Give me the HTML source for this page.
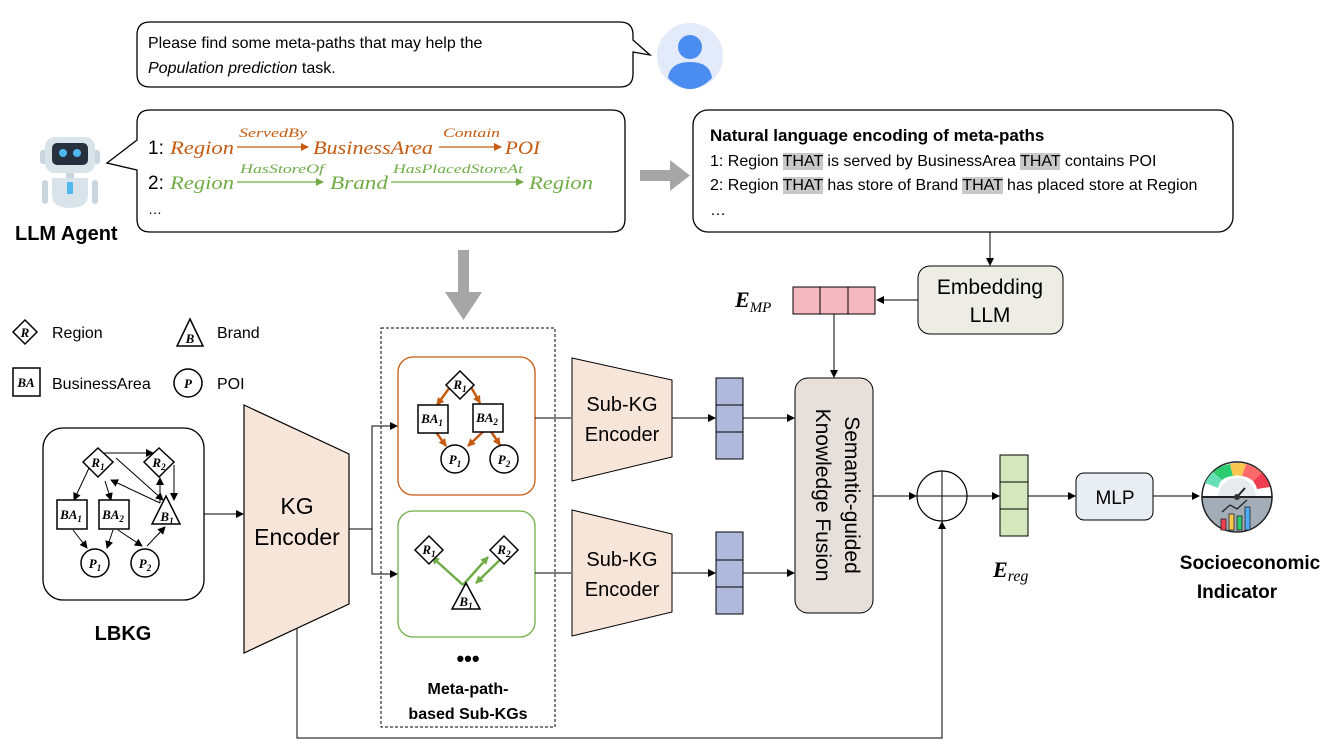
<!DOCTYPE html>
<html><head><meta charset="utf-8"><style>
html,body{margin:0;padding:0;background:#fff;}
body{position:relative;width:1328px;height:754px;overflow:hidden;}
svg{display:block;font-family:"Liberation Sans",sans-serif;}
.it{font-family:"Liberation Serif",serif;font-style:italic;}
#nl{position:absolute;left:710px;top:124px;font-family:"Liberation Sans",sans-serif;font-size:16px;line-height:24.5px;white-space:nowrap;}
#nl b{font-size:17px;}
#nl span{background:#c8c8c8;}
</style></head><body>
<svg width="1328" height="754" viewBox="0 0 1328 754" xmlns="http://www.w3.org/2000/svg">
<defs>
<marker id="a" markerWidth="8" markerHeight="8" refX="7" refY="4" orient="auto" markerUnits="userSpaceOnUse"><path d="M0,0 L8,4 L0,8 z" fill="#000"/></marker>
<marker id="ao" markerWidth="8" markerHeight="8" refX="7" refY="4" orient="auto" markerUnits="userSpaceOnUse"><path d="M0,0 L8,4 L0,8 z" fill="#c55a11"/></marker>
<marker id="ag" markerWidth="8" markerHeight="8" refX="7" refY="4" orient="auto" markerUnits="userSpaceOnUse"><path d="M0,0 L8,4 L0,8 z" fill="#70ad47"/></marker>
</defs>

<!-- top user bubble -->
<path d="M150,22 H620 Q633,22 633,35 V40 L650,55 L633,52 V74 Q633,87 620,87 H150 Q137,87 137,74 V35 Q137,22 150,22 Z" fill="#fff" stroke="#000" stroke-width="1.3"/>
<text x="148" y="48" font-size="16">Please find some meta-paths that may help the</text>
<text x="148" y="73" font-size="16"><tspan font-style="italic">Population prediction</tspan> task.</text>
<circle cx="690" cy="56" r="33" fill="#e3ebfb"/>
<circle cx="690" cy="47" r="12" fill="#4a8cf0"/>
<path d="M668,78 Q670,62 690,62 Q710,62 712,78 Q701,89 690,89 Q679,89 668,78 Z" fill="#4a8cf0"/>

<!-- robot -->
<rect x="40" y="150" width="7" height="14" rx="3" fill="#c9d6de"/><rect x="93" y="150" width="7" height="14" rx="3" fill="#c9d6de"/>
<rect x="45" y="137" width="50" height="36" rx="10" fill="#d9e3ea"/>
<rect x="52" y="143" width="36" height="22" rx="5" fill="#26303f"/>
<circle cx="63" cy="153" r="4" fill="#4fb8ee"/><circle cx="77" cy="153" r="4" fill="#4fb8ee"/>
<rect x="66" y="173" width="8" height="5" fill="#c9d6de"/>
<path d="M52,178 H88 V195 Q88,208 70,208 Q52,208 52,195 Z" fill="#d9e3ea"/>
<rect x="42" y="180" width="6" height="24" rx="3" fill="#c9d6de"/><rect x="92" y="180" width="6" height="24" rx="3" fill="#c9d6de"/>
<rect x="67" y="182" width="6" height="12" rx="1" fill="#4fb8ee"/>
<text x="15" y="240" font-size="20" font-weight="bold">LLM Agent</text>

<!-- LLM bubble -->
<path d="M150,110 H612 Q625,110 625,123 V219 Q625,232 612,232 H150 Q137,232 137,219 V170 L107,163 L137,140 V123 Q137,110 150,110 Z" fill="#fff" stroke="#000" stroke-width="1.3"/>
<g font-size="19">
<text x="148" y="154">1:</text>
<text x="170" y="154" class="it" fill="#c55a11" textLength="64" lengthAdjust="spacingAndGlyphs">Region</text>
<text x="239" y="137" class="it" font-size="13" fill="#c55a11" textLength="68" lengthAdjust="spacingAndGlyphs">ServedBy</text>
<line x1="237" y1="147" x2="308" y2="147" stroke="#c55a11" stroke-width="1.2" marker-end="url(#ao)"/>
<text x="313" y="154" class="it" fill="#c55a11" textLength="120" lengthAdjust="spacingAndGlyphs">BusinessArea</text>
<text x="443" y="137" class="it" font-size="13" fill="#c55a11" textLength="57" lengthAdjust="spacingAndGlyphs">Contain</text>
<line x1="439" y1="147" x2="501" y2="147" stroke="#c55a11" stroke-width="1.2" marker-end="url(#ao)"/>
<text x="505" y="154" class="it" fill="#c55a11" textLength="35" lengthAdjust="spacingAndGlyphs">POI</text>
<text x="148" y="189">2:</text>
<text x="170" y="189" class="it" fill="#70ad47" textLength="64" lengthAdjust="spacingAndGlyphs">Region</text>
<text x="240" y="173" class="it" font-size="13" fill="#70ad47" textLength="84" lengthAdjust="spacingAndGlyphs">HasStoreOf</text>
<line x1="237" y1="182" x2="323" y2="182" stroke="#70ad47" stroke-width="1.2" marker-end="url(#ag)"/>
<text x="330" y="189" class="it" fill="#70ad47" textLength="58" lengthAdjust="spacingAndGlyphs">Brand</text>
<text x="393" y="173" class="it" font-size="13" fill="#70ad47" textLength="130" lengthAdjust="spacingAndGlyphs">HasPlacedStoreAt</text>
<line x1="391" y1="182" x2="523" y2="182" stroke="#70ad47" stroke-width="1.2" marker-end="url(#ag)"/>
<text x="529" y="189" class="it" fill="#70ad47" textLength="64" lengthAdjust="spacingAndGlyphs">Region</text>
<text x="148" y="214" font-size="14">…</text>
</g>

<!-- gray arrows -->
<rect x="640" y="170" width="32" height="11" fill="#a6a6a6"/>
<path d="M670,160 L690,175.5 L670,191 Z" fill="#a6a6a6"/>
<rect x="458" y="250" width="11" height="45" fill="#a6a6a6"/>
<path d="M445,292 L463.5,320 L482,292 Z" fill="#a6a6a6"/>

<!-- NL box -->
<rect x="693" y="110" width="540" height="122" rx="15" fill="#fff" stroke="#000" stroke-width="1.3"/>
<line x1="990" y1="232" x2="990" y2="265" stroke="#000" marker-end="url(#a)"/>

<!-- Embedding LLM -->
<rect x="918" y="266" width="145" height="68" rx="12" fill="#ededE5" stroke="#000"/>
<text x="990" y="294" font-size="21" text-anchor="middle">Embedding</text>
<text x="990" y="322" font-size="21" text-anchor="middle">LLM</text>
<line x1="918" y1="300" x2="877" y2="300" stroke="#000" marker-end="url(#a)"/>
<rect x="793" y="287" width="82" height="27" fill="#f4b8c1" stroke="#000"/>
<line x1="820" y1="287" x2="820" y2="314" stroke="#000"/><line x1="848" y1="287" x2="848" y2="314" stroke="#000"/>
<text x="735" y="307" class="it" font-size="22" font-weight="bold">E<tspan font-size="15" font-weight="normal" dy="5">MP</tspan></text>
<line x1="834" y1="314" x2="834" y2="377" stroke="#000" marker-end="url(#a)"/>

<!-- legend -->
<g stroke="#000" stroke-width="1.5" fill="#fff">
<path d="M25,320 L37,332 L25,344 L13,332 Z"/>
<rect x="13" y="368" width="27" height="28"/>
<path d="M190,319 L203,346 L177,346 Z"/>
<circle cx="188" cy="383" r="14"/>
</g>
<g class="it" font-weight="bold" font-size="13" text-anchor="middle">
<text x="25" y="337">R</text><text x="26" y="387">BA</text><text x="190" y="343">B</text><text x="188" y="388">P</text>
</g>
<g font-size="16"><text x="52" y="338">Region</text><text x="52" y="389">BusinessArea</text><text x="217" y="338">Brand</text><text x="217" y="389">POI</text></g>

<!-- LBKG -->
<rect x="43" y="428" width="161" height="172" rx="20" fill="#fff" stroke="#000" stroke-width="1.3"/>
<g stroke="#000" stroke-width="1" fill="none" marker-end="url(#a)">
<line x1="104" y1="453" x2="153" y2="453"/>
<path d="M89,468 L74,500"/>
<path d="M105,481 L111,500"/>
<path d="M116,458 L163,500"/>
<path d="M160,503 L111,480"/>
<path d="M160,503 L160,478"/>
<path d="M174,465 L174,500"/>
<path d="M73,530 L87,548"/>
<path d="M113,530 L107,548"/>
<path d="M118,530 L142,546"/>
<path d="M147,546 L165,527"/>
</g>
<g stroke="#000" stroke-width="1.5" fill="#fff">
<path d="M98,448 L113,462 L98,477 L83,462 Z"/>
<path d="M159,448 L174,462 L159,477 L144,462 Z"/>
<rect x="57" y="500" width="30" height="29"/>
<rect x="99" y="500" width="30" height="29"/>
<path d="M166,496 L180,524 L152,524 Z"/>
<circle cx="95" cy="563" r="14"/>
<circle cx="145" cy="563" r="14"/>
</g>
<g class="it" font-weight="bold" font-size="13" text-anchor="middle">
<text x="98" y="467">R<tspan font-size="9" dy="3">1</tspan></text>
<text x="159" y="467">R<tspan font-size="9" dy="3">2</tspan></text>
<text x="71" y="519">BA<tspan font-size="9" dy="3">1</tspan></text>
<text x="113" y="519">BA<tspan font-size="9" dy="3">2</tspan></text>
<text x="167" y="521">B<tspan font-size="9" dy="3">1</tspan></text>
<text x="95" y="568">P<tspan font-size="9" dy="3">1</tspan></text>
<text x="145" y="568">P<tspan font-size="9" dy="3">2</tspan></text>
</g>
<text x="123" y="640" font-size="20" font-weight="bold" text-anchor="middle">LBKG</text>
<line x1="204" y1="514" x2="243" y2="514" stroke="#000" marker-end="url(#a)"/>

<!-- KG Encoder -->
<path d="M244,405 L349,454 L349,604 L244,653 Z" fill="#f8e5da" stroke="#000" stroke-width="1.2"/>
<text x="297" y="514" font-size="23" text-anchor="middle">KG</text>
<text x="297" y="545" font-size="23" text-anchor="middle">Encoder</text>
<path d="M349,529 H372 V426 H397" fill="none" stroke="#000" marker-end="url(#a)"/>
<path d="M372,529 V574 H397" fill="none" stroke="#000" marker-end="url(#a)"/>

<!-- dashed box -->
<rect x="381" y="328" width="174" height="399" fill="none" stroke="#000" stroke-dasharray="3,2"/>

<!-- orange subKG -->
<rect x="398" y="357" width="137" height="138" rx="15" fill="#fff" stroke="#c55a11" stroke-width="1.3"/>
<g stroke="#c55a11" stroke-width="2.5" fill="none" marker-end="url(#ao)">
<path d="M450,387 L437,405"/><path d="M471,387 L480,403"/>
<path d="M433,428 L446,446"/><path d="M488,427 L468,446"/><path d="M488,427 L500,445"/>
</g>
<g stroke="#000" stroke-width="1.5" fill="#fff">
<path d="M460,371 L474,385 L460,399 L446,385 Z"/>
<rect x="418" y="405" width="30" height="28"/>
<rect x="473" y="404" width="30" height="28"/>
<circle cx="455" cy="459" r="14"/><circle cx="504" cy="459" r="14"/>
</g>
<g class="it" font-weight="bold" font-size="13" text-anchor="middle">
<text x="460" y="389">R<tspan font-size="9" dy="3">1</tspan></text>
<text x="432" y="423">BA<tspan font-size="9" dy="3">1</tspan></text>
<text x="487" y="422">BA<tspan font-size="9" dy="3">2</tspan></text>
<text x="455" y="464">P<tspan font-size="9" dy="3">1</tspan></text>
<text x="504" y="464">P<tspan font-size="9" dy="3">2</tspan></text>
</g>

<!-- green subKG -->
<rect x="398" y="511" width="137" height="126" rx="15" fill="#fff" stroke="#70ad47" stroke-width="1.3"/>
<g stroke="#70ad47" stroke-width="2.5" fill="none" marker-end="url(#ag)">
<path d="M463,585 L432,557"/><path d="M463,585 L488,557"/><path d="M503,557 L476,583"/>
</g>
<g stroke="#000" stroke-width="1.5" fill="#fff">
<path d="M429,536 L443,550 L429,564 L415,550 Z"/>
<path d="M504,536 L518,550 L504,564 L490,550 Z"/>
<path d="M466,583 L480,609 L452,609 Z"/>
</g>
<g class="it" font-weight="bold" font-size="13" text-anchor="middle">
<text x="429" y="554">R<tspan font-size="9" dy="3">1</tspan></text>
<text x="504" y="554">R<tspan font-size="9" dy="3">2</tspan></text>
<text x="466" y="606">B<tspan font-size="9" dy="3">1</tspan></text>
</g>
<line x1="535" y1="418" x2="571" y2="418" stroke="#000"/>
<line x1="535" y1="573" x2="571" y2="573" stroke="#000"/>
<text x="468" y="666" font-size="22" font-weight="bold" text-anchor="middle">•••</text>
<text x="468" y="694" font-size="16" font-weight="bold" text-anchor="middle">Meta-path-</text>
<text x="468" y="719" font-size="16" font-weight="bold" text-anchor="middle">based Sub-KGs</text>

<!-- Sub-KG encoders -->
<path d="M572,358 L672,380 L672,457 L572,481 Z" fill="#f8e5da" stroke="#000"/>
<path d="M572,510 L672,534 L672,612 L572,636 Z" fill="#f8e5da" stroke="#000"/>
<text x="622" y="411" font-size="20" text-anchor="middle">Sub-KG</text>
<text x="622" y="441" font-size="20" text-anchor="middle">Encoder</text>
<text x="622" y="566" font-size="20" text-anchor="middle">Sub-KG</text>
<text x="622" y="596" font-size="20" text-anchor="middle">Encoder</text>
<line x1="672" y1="418" x2="715" y2="418" stroke="#000" marker-end="url(#a)"/>
<line x1="672" y1="573" x2="715" y2="573" stroke="#000" marker-end="url(#a)"/>
<g fill="#aeb9dc" stroke="#000">
<rect x="716" y="378" width="27" height="81"/><line x1="716" y1="405" x2="743" y2="405"/><line x1="716" y1="432" x2="743" y2="432"/>
<rect x="716" y="532" width="27" height="82"/><line x1="716" y1="560" x2="743" y2="560"/><line x1="716" y1="587" x2="743" y2="587"/>
</g>
<line x1="743" y1="418" x2="794" y2="418" stroke="#000" marker-end="url(#a)"/>
<line x1="743" y1="573" x2="794" y2="573" stroke="#000" marker-end="url(#a)"/>

<!-- fusion -->
<rect x="795" y="378" width="78" height="235" rx="13" fill="#e7dfda" stroke="#000"/>
<text transform="translate(845,495) rotate(90)" font-size="21" text-anchor="middle">Semantic-guided</text>
<text transform="translate(816,495) rotate(90)" font-size="21" text-anchor="middle">Knowledge Fusion</text>
<line x1="873" y1="496" x2="916" y2="496" stroke="#000" marker-end="url(#a)"/>
<circle cx="942" cy="496" r="25" fill="#fff" stroke="#000" stroke-width="1.2"/>
<line x1="917" y1="496" x2="967" y2="496" stroke="#000"/><line x1="942" y1="471" x2="942" y2="521" stroke="#000"/>
<path d="M297,629 V738 H942 V522" fill="none" stroke="#000" marker-end="url(#a)"/>
<line x1="967" y1="496" x2="999" y2="496" stroke="#000" marker-end="url(#a)"/>
<g fill="#d5e8bd" stroke="#000">
<rect x="1000" y="455" width="28" height="81"/><line x1="1000" y1="482" x2="1028" y2="482"/><line x1="1000" y1="509" x2="1028" y2="509"/>
</g>
<text x="993" y="577" class="it" font-size="22" font-weight="bold">E<tspan font-size="16" font-weight="normal" dy="4">reg</tspan></text>
<line x1="1028" y1="496" x2="1075" y2="496" stroke="#000" marker-end="url(#a)"/>
<rect x="1076" y="473" width="77" height="47" rx="8" fill="#e9edf4" stroke="#000"/>
<text x="1115" y="504" font-size="19" text-anchor="middle">MLP</text>
<line x1="1153" y1="496" x2="1199" y2="496" stroke="#000" marker-end="url(#a)"/>

<!-- gauge -->
<path d="M1202,497 A35,35 0 0 1 1272,497 Z" fill="#fff" stroke="#222" stroke-width="1.5"/>
<path d="M1205,483 A33,33 0 0 1 1213,472 L1222,480 A20,20 0 0 0 1218,488 Z" fill="#66e0b4"/>
<path d="M1213,472 A33,33 0 0 1 1230,464 L1233,476 A20,20 0 0 0 1222,480 Z" fill="#2ecc71"/>
<path d="M1230,464 A33,33 0 0 1 1246,464 L1242,476 A20,20 0 0 0 1233,476 Z" fill="#f9c74f"/>
<path d="M1246,464 A33,33 0 0 1 1262,473 L1253,481 A20,20 0 0 0 1242,476 Z" fill="#ff6b6b"/>
<path d="M1262,473 A33,33 0 0 1 1270,487 L1257,489 A20,20 0 0 0 1253,481 Z" fill="#f03e50"/>
<path d="M1218,497 A19,19 0 0 1 1256,497 Z" fill="#e8ebee"/>
<path d="M1202,497 A35,35 0 0 0 1272,497 Z" fill="#a3adb8" stroke="#222" stroke-width="1.5"/>
<line x1="1202" y1="497" x2="1272" y2="497" stroke="#222" stroke-width="2"/>
<line x1="1237" y1="497" x2="1245" y2="488" stroke="#222" stroke-width="2"/><circle cx="1237" cy="497" r="3" fill="#333"/>
<rect x="1221" y="519" width="5" height="11" fill="#f03e50" stroke="#222" stroke-width="0.8"/>
<rect x="1229" y="514" width="5" height="16" fill="#f9c74f" stroke="#222" stroke-width="0.8"/>
<rect x="1237" y="516" width="5" height="14" fill="#2ecc71" stroke="#222" stroke-width="0.8"/>
<rect x="1245" y="507" width="5" height="23" fill="#4dabf7" stroke="#222" stroke-width="0.8"/>
<path d="M1222,512 L1230,505 L1237,509 L1247,500" fill="none" stroke="#222" stroke-width="1.3"/>
<text x="1250" y="569" font-size="19" font-weight="bold" text-anchor="middle">Socioeconomic</text>
<text x="1237" y="598" font-size="19" font-weight="bold" text-anchor="middle">Indicator</text>
</svg>
<div id="nl"><b>Natural language encoding of meta-paths</b><br>1: Region <span>THAT</span> is served by BusinessArea <span>THAT</span> contains POI<br>2: Region <span>THAT</span> has store of Brand <span>THAT</span> has placed store at Region<br>…</div>
</body></html>
